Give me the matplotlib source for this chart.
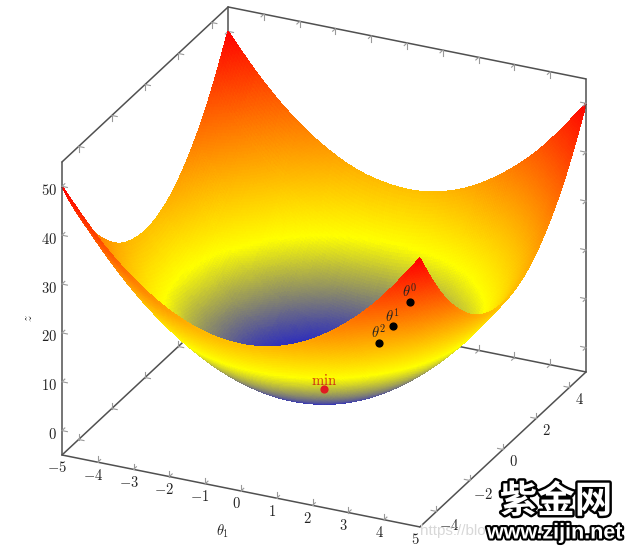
# -*- coding: utf-8 -*-
import numpy as np
import matplotlib
matplotlib.use('Agg')
import matplotlib.pyplot as plt
import matplotlib.tri as mtri
import matplotlib.patheffects as pe
from matplotlib.colors import LinearSegmentedColormap
from mpl_toolkits.mplot3d import proj3d

plt.rcParams['mathtext.fontset'] = 'cm'

########### data ###############

theta1 = [-5, -4, -3, -2, -1, 0, 1, 2, 3, 4, 5]
theta2 = [-5, -4, -3, -2, -1, 0, 1, 2, 3, 4, 5]
z_grid = [
    [50, 41, 34, 29, 26, 25, 26, 29, 34, 41, 50],
    [41, 32, 25, 20, 17, 16, 17, 20, 25, 32, 41],
    [34, 25, 18, 13, 10, 9, 10, 13, 18, 25, 34],
    [29, 20, 13, 8, 5, 4, 5, 8, 13, 20, 29],
    [26, 17, 10, 5, 2, 1, 2, 5, 10, 17, 26],
    [25, 16, 9, 4, 1, 0, 1, 4, 9, 16, 25],
    [26, 17, 10, 5, 2, 1, 2, 5, 10, 17, 26],
    [29, 20, 13, 8, 5, 4, 5, 8, 13, 20, 29],
    [34, 25, 18, 13, 10, 9, 10, 13, 18, 25, 34],
    [41, 32, 25, 20, 17, 16, 17, 20, 25, 32, 41],
    [50, 41, 34, 29, 26, 25, 26, 29, 34, 41, 50],
]

x_ticks = [-5, -4, -3, -2, -1, 0, 1, 2, 3, 4, 5]
y_ticks = [-4, -2, 0, 2, 4]
z_ticks = [0, 10, 20, 30, 40, 50]

iter_x = [4.4, 3.83, 3.36]
iter_y = [-4.3, -4.1, -3.95]
iter_z = [38, 31.5, 26.9]
iter_names = [r'$\theta^0$', r'$\theta^1$', r'$\theta^2$']

min_x, min_y, min_z = 0, 0, 0

xlo, xhi, ylo, yhi, zlo, zhi = -5, 5, -5, 5, -5, 55

hot = LinearSegmentedColormap.from_list('hot2', [(0, '#2a2abf'), (0.06, '#2c2cbd'), (1 / 3, '#ffff00'),
                                                 (2 / 3, '#ff8000'), (1, '#ff0000')])

########### figure ###############

fig = plt.figure(figsize=(6.4, 5.49), dpi=100)
ax = fig.add_axes([0, 0, 1, 1], projection='3d', computed_zorder=False)
ax.set_proj_type('ortho')
ax.view_init(elev=25.66, azim=-65.1)
ax.set_box_aspect((1, 1, 0.824))
ax.set_xlim(xlo, xhi)
ax.set_ylim(ylo, yhi)
ax.set_zlim(zlo, zhi)
ax.set_axis_off()

# put box corners where they are in the picture
fig.canvas.draw()
M = ax.get_proj()
xa, ya, _ = proj3d.proj_transform(xlo, ylo, zlo, M)
xc, yc, _ = proj3d.proj_transform(xhi, yhi, zlo, M)
pa = ax.transAxes.inverted().transform(ax.transData.transform((xa, ya)))
pc = ax.transAxes.inverted().transform(ax.transData.transform((xc, yc)))
side = (586 - 62) / (pc[0] - pa[0])
left = 62 - side * pa[0]
bottom = (549 - 455) - side * pa[1]
ax.set_position([left / 640, bottom / 549, side / 640, side / 549])
ax.apply_aspect()

def label(x, y, z, s, ox, oy, **kw):
    # text at a 3d point, moved by ox, oy pixels (oy down)
    px, py, _ = proj3d.proj_transform(x, y, z, M)
    fx, fy = ax.transData.transform((px, py))
    fig.text((fx + ox) / 640, (fy - oy) / 549, s, **kw)

########### surface ###############

X, Y = np.meshgrid(theta1, theta2)
Z = np.array(z_grid, dtype=float)
tri = mtri.Triangulation(X.ravel(), Y.ravel())
interp = mtri.CubicTriInterpolator(tri, Z.ravel(), kind='min_E')
fine_tri, fine_z = mtri.UniformTriRefiner(tri).refine_field(Z.ravel(), triinterpolator=interp, subdiv=4)
surf = ax.plot_trisurf(fine_tri, fine_z, cmap=hot, vmin=0, vmax=50, shade=False,
                       linewidth=0.5, antialiased=False, zorder=2)
surf.set_edgecolor('face')

########### box lines and ticks ###############

line_col = '#505050'
tick_col = '#999999'

def edge(p, q, zo):
    ax.plot([p[0], q[0]], [p[1], q[1]], [p[2], q[2]], color=line_col, lw=1.1, zorder=zo, solid_capstyle='round')

# behind the surface
edge((xlo, ylo, zlo), (xlo, yhi, zlo), 1)
edge((xlo, yhi, zlo), (xhi, yhi, zlo), 1)
edge((xlo, yhi, zlo), (xlo, yhi, zhi), 1)
# in front
edge((xlo, ylo, zlo), (xhi, ylo, zlo), 3)
edge((xhi, ylo, zlo), (xhi, yhi, zlo), 3)
edge((xlo, ylo, zlo), (xlo, ylo, zhi), 3)
edge((xhi, yhi, zlo), (xhi, yhi, zhi), 3)
edge((xlo, ylo, zhi), (xlo, yhi, zhi), 3)
edge((xlo, yhi, zhi), (xhi, yhi, zhi), 3)

dx, dy, dz = 0.15, 0.17, 1.2

def tick(p, d1, d2, zo):
    for d in (d1, d2):
        ax.plot([p[0], p[0] + d[0]], [p[1], p[1] + d[1]], [p[2], p[2] + d[2]],
                color=tick_col, lw=0.8, zorder=zo)

for v in x_ticks[1:-1]:
    tick((v, ylo, zlo), (0, dy, 0), (0, 0, dz), 3)
    tick((v, yhi, zhi), (0, -dy, 0), (0, 0, -dz), 3)
    tick((v, yhi, zlo), (0, -dy, 0), (0, 0, dz), 1)
for v in y_ticks:
    tick((xlo, v, zlo), (dx, 0, 0), (0, 0, dz), 1)
    tick((xhi, v, zlo), (-dx, 0, 0), (0, 0, dz), 3)
    tick((xlo, v, zhi), (dx, 0, 0), (0, 0, -dz), 3)
for v in z_ticks:
    tick((xlo, ylo, v), (dx, 0, 0), (0, dy, 0), 3)
    tick((xhi, yhi, v), (-dx, 0, 0), (0, -dy, 0), 3)
    tick((xlo, yhi, v), (dx, 0, 0), (0, -dy, 0), 1)

########### tick labels ###############

lab_col = '#222222'

def num(v):
    return '$%d$' % v if v >= 0 else r'$-%d$' % -v

for v in x_ticks:
    label(v, ylo, zlo, num(v), -5, 13, fontsize=10.5, color=lab_col, ha='center', va='center')
for v in y_ticks:
    label(xhi, v, zlo, num(v), 13 if v < 0 else 10, 14 if v < 0 else 12, fontsize=10.5,
          color=lab_col, ha='center', va='center')
for v in z_ticks:
    label(xlo, ylo, v, num(v), -5, 4, fontsize=10.5, color=lab_col, ha='right', va='center')

fig.text(223 / 640, 1 - 531 / 549, r'$\theta_1$', fontsize=10.5, color=lab_col, ha='center', va='center')
fig.text(28 / 640, 1 - 318 / 549, r'$z$', fontsize=9, color=lab_col, ha='center', va='center', rotation=90)

########### points ###############

ax.scatter(iter_x, iter_y, iter_z, color='black', s=24, depthshade=False, zorder=6)
for x, y, z, name in zip(iter_x, iter_y, iter_z, iter_names):
    label(x, y, z, name, 0, -11, fontsize=10.5, color='#222222', ha='center', va='center')
ax.scatter([min_x], [min_y], [min_z], color='#e01a22', s=24, depthshade=False, zorder=6)
label(min_x, min_y, min_z, r'$\mathrm{min}$', 0, -9, fontsize=10.5, color='#d03010', ha='center', va='center')

########### watermark ###############

fig.text(420 / 640, 1 - 531 / 549, 'https://blog.csdn.net/', family='Liberation Sans', fontsize=11,
         color='#d8d8d8', ha='left', va='center')
fig.text(556 / 640, 1 - 501 / 549, '紫金网', family=['Noto Sans CJK SC', 'DejaVu Sans'], fontsize=27, weight='bold',
         color='white', ha='center', va='center',
         path_effects=[pe.withStroke(linewidth=3.5, foreground='black')])
fig.text(555 / 640, 1 - 533 / 549, 'www.zijin.net', family='Liberation Sans', fontsize=15.5, weight='bold',
         color='white', ha='center', va='center',
         path_effects=[pe.withStroke(linewidth=3, foreground='black')])

fig.savefig('out.png', dpi=100, facecolor='white')
